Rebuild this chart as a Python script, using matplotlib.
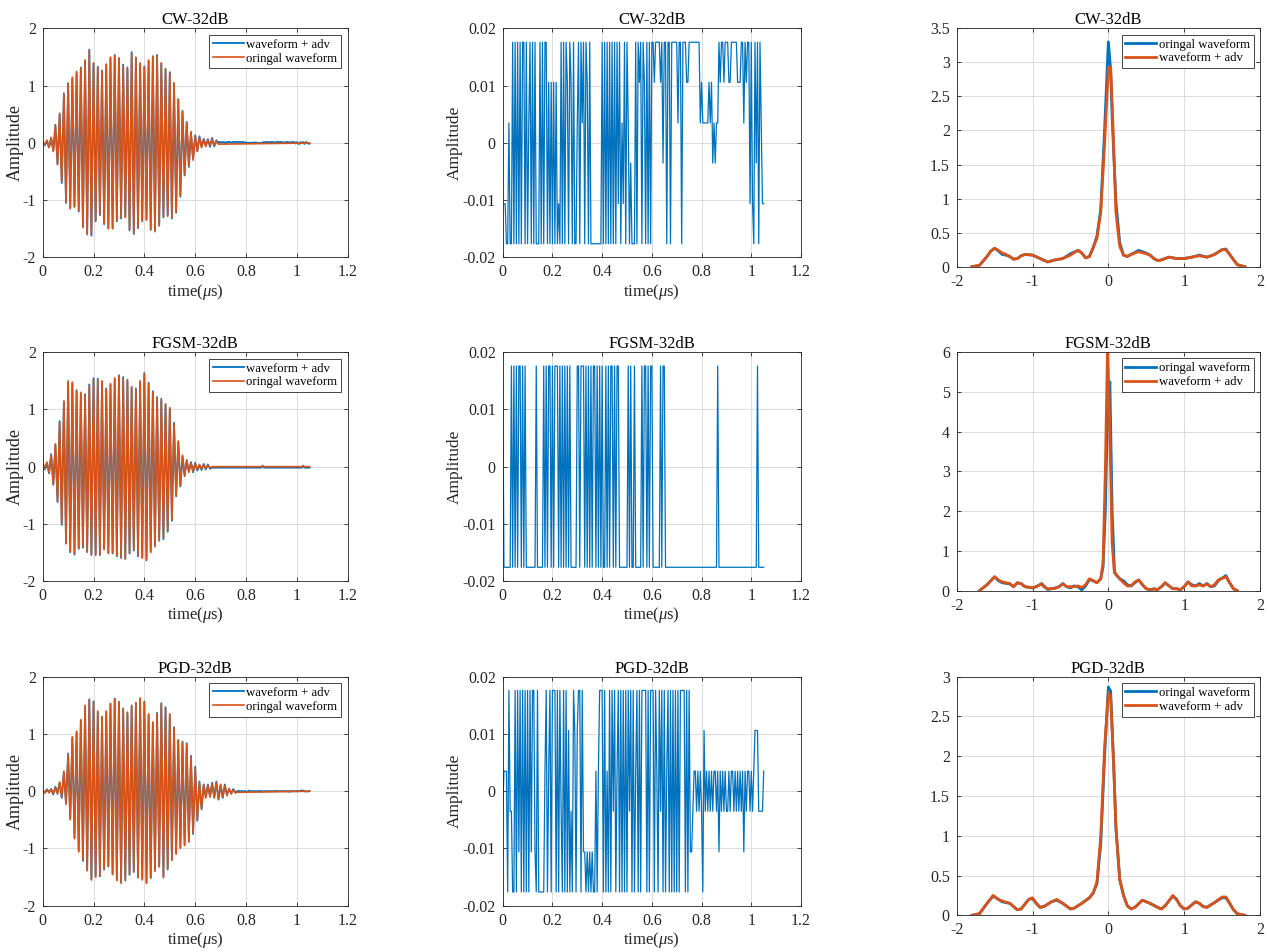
import numpy as np
import matplotlib.pyplot as plt

plt.rcParams['font.family'] = ['Liberation Serif', 'DejaVu Serif']
plt.rcParams['mathtext.fontset'] = 'custom'
plt.rcParams['mathtext.rm'] = 'Liberation Serif'
plt.rcParams['mathtext.it'] = 'Liberation Serif:italic'
plt.rcParams['axes.unicode_minus'] = False

# ----------------------------------------------------------------------
# data
# ----------------------------------------------------------------------
TITLES = ['CW-32dB', 'FGSM-32dB', 'PGD-32dB']
HALF_PERIOD = 1 / 120      # us, time between a peak and the following trough
ADV_DT = 0.005             # us, sample step of the perturbation
T_END = 1.05

# waveform peaks / troughs, one pair per carrier cycle
cw_pos = [0.03, 0.05, 0.10, 0.30, 0.52, 0.85, 1.05, 1.15, 1.25, 1.30, 1.45, 1.62,
          1.40, 1.32, 1.25, 1.38, 1.50, 1.52, 1.48, 1.35, 1.30, 1.57, 1.50, 1.40,
          1.32, 1.45, 1.52, 1.52, 1.40, 1.30, 1.22, 1.05, 0.75, 0.55, 0.35, 0.20,
          0.12, 0.10, 0.06, 0.05, 0.07, 0.03]
cw_neg = [-0.03, -0.08, -0.15, -0.38, -0.68, -1.03, -1.15, -1.10, -1.18, -1.48, -1.60, -1.60,
          -1.35, -1.25, -1.40, -1.50, -1.50, -1.35, -1.30, -1.30, -1.53, -1.57, -1.47, -1.35,
          -1.35, -1.50, -1.55, -1.45, -1.28, -1.28, -1.30, -1.20, -0.92, -0.55, -0.40, -0.30,
          -0.15, -0.08, -0.06, -0.05, -0.04, -0.02]

fgsm_pos = [0.05, 0.08, 0.20, 0.40, 0.78, 1.15, 1.50, 1.48, 1.32, 1.30, 1.25, 1.42,
            1.53, 1.52, 1.50, 1.35, 1.45, 1.55, 1.58, 1.55, 1.50, 1.40, 1.35, 1.50,
            1.62, 1.45, 1.30, 1.20, 1.17, 1.10, 1.03, 0.75, 0.45, 0.20, 0.12, 0.06,
            0.05, 0.04, 0.03, 0.02, 0.00]
fgsm_neg = [-0.03, -0.10, -0.30, -0.60, -1.00, -1.35, -1.48, -1.52, -1.42, -1.40, -1.50, -1.55,
            -1.55, -1.53, -1.45, -1.52, -1.50, -1.55, -1.58, -1.62, -1.50, -1.45, -1.55, -1.60,
            -1.62, -1.50, -1.40, -1.30, -1.25, -1.12, -0.93, -0.50, -0.33, -0.17, -0.10, -0.08,
            -0.05, -0.04, -0.03, -0.02, 0.00]

pgd_pos = [0.02, 0.03, 0.04, 0.06, 0.16, 0.35, 0.64, 0.95, 1.05, 1.25, 1.50, 1.60,
           1.55, 1.40, 1.30, 1.40, 1.52, 1.60, 1.55, 1.45, 1.38, 1.50, 1.55, 1.62,
           1.55, 1.35, 1.21, 1.35, 1.52, 1.45, 1.35, 1.10, 0.89, 0.85, 0.82, 0.60,
           0.41, 0.15, 0.12, 0.10, 0.13, 0.15, 0.12, 0.10, 0.05, 0.02]
pgd_neg = [-0.03, -0.03, -0.04, -0.05, -0.10, -0.23, -0.50, -0.83, -1.06, -1.20, -1.39, -1.55,
           -1.50, -1.47, -1.35, -1.30, -1.45, -1.56, -1.61, -1.55, -1.45, -1.40, -1.51, -1.55,
           -1.61, -1.50, -1.40, -1.32, -1.51, -1.35, -1.20, -1.10, -1.00, -0.95, -0.89, -0.73,
           -0.50, -0.30, -0.12, -0.10, -0.12, -0.13, -0.10, -0.08, -0.05, -0.02]

# perturbation level codes (one per ADV_DT sample) and the level values
ADV_LEVELS = {3: 0.0176, 2: 0.0106, 1: 0.0035, -1: -0.0035, -2: -0.0106, -3: -0.0176}

cw_adv = [-2, -2, -2, -3, -3, 1, -3, -3, 3, -3,
          3, -3, 3, -3, 3, -3, 3, 3, -3, 3,
          -3, 1, 3, -3, 3, -3, 3, -3, -3, -3,
          3, -3, 3, -3, 3, 3, -3, 2, -3, 2,
          -3, 2, -3, 2, -3, -2, -3, 3, -3, 3,
          -3, 3, 2, -3, 3, 2, -3, 3, -3, -3,
          1, 3, -3, 3, 1, 3, -3, 3, 2, -3,
          3, -3, -3, -3, -3, -3, -3, -3, -3, -3,
          3, -3, 3, -3, 3, -3, 3, -3, 3, -3,
          3, -3, 3, -2, 3, -3, 1, -2, 3, -3,
          3, 1, -3, -1, -3, -3, -3, 3, -3, 3,
          2, 3, -3, 3, 2, -3, 3, -3, 3, -3,
          3, 3, 2, 3, 3, 3, 3, 2, 3, -1,
          3, 3, -3, 3, 3, -3, 3, 3, 3, 3,
          3, 1, 3, 3, -3, 3, 3, 3, 2, 2,
          3, 3, 3, 3, 3, 3, 3, 3, 3, 1,
          2, 1, 1, 1, 1, 1, 2, 1, 2, -1,
          1, -1, 1, 1, 3, 2, 3, 3, 2, 3,
          3, 3, 2, 2, 3, 3, 3, 3, 3, 2,
          2, 2, 3, 3, 1, 3, 2, 3, 3, -2,
          3, -2, -3, 3, -1, 3, -3, 3, 1, -2, -2]

fgsm_adv = [3, -3, -3, -3, -3, -3, -3, 3, -3, 3,
            -3, 3, -3, 3, 3, -3, 3, -3, 3, -3,
            -3, -3, -3, -3, -3, -3, -3, 3, -3, -3,
            -3, -3, -3, 3, -3, 3, -3, 3, 3, -3,
            3, -3, 3, 3, 3, -3, 3, -3, 3, -3,
            3, -3, 3, -3, 3, -3, -3, -3, -3, -3,
            3, 3, -3, 3, 3, 3, -3, 3, -3, 3,
            -3, 3, -3, 3, 3, -3, 3, -3, 3, -3,
            3, -3, -3, 3, -3, 3, -3, 3, 3, -3,
            3, -3, 3, 3, -3, -3, -3, -3, -3, -3,
            -3, 3, -3, 3, -3, -3, 3, -3, -3, -3,
            -3, -3, 3, -3, 3, 3, -3, 3, -3, 3,
            3, -3, -3, -3, -3, -3, -3, 3, -3, 3,
            3, -3, -3, -3, -3, -3, -3, -3, -3, -3,
            -3, -3, -3, -3, -3, -3, -3, -3, -3, -3,
            -3, -3, -3, -3, -3, -3, -3, -3, -3, -3,
            -3, -3, -3, -3, -3, -3, -3, -3, -3, -3,
            -3, -3, -3, 3, -3, -3, -3, -3, -3, -3,
            -3, -3, -3, -3, -3, -3, -3, -3, -3, -3,
            -3, -3, -3, -3, -3, -3, -3, -3, -3, -3,
            -3, -3, -3, -3, -3, 3, -3, -3, -3, -3, -3]

pgd_adv = [-1, 1, 1, 1, -3, 3, -1, -1, -3, -3,
           3, -3, 3, -2, 3, -3, 3, -3, 3, -3,
           3, -3, 3, -2, 3, 3, -2, -3, 3, -3,
           -3, -3, -3, -3, 1, 3, -3, 1, 3, -3,
           3, 3, 3, -3, 3, -3, 3, -1, -3, 3,
           -3, 3, -3, 2, -3, -1, -3, 3, 2, -3,
           2, 3, 3, -3, 3, -2, -2, -3, -2, -3,
           -2, -3, -2, -3, -3, 1, -3, 1, 3, 3,
           3, -3, 3, -3, 1, -3, 3, -3, 3, -1,
           3, -3, 1, 3, -3, 3, -3, 3, -3, 3,
           -3, 3, -1, 3, -3, 3, -3, 1, 3, -3,
           3, -3, 3, 3, 3, 3, -3, 3, -3, 3,
           3, 3, -3, 3, 1, -3, 3, -1, 3, -3,
           3, -3, 1, 3, -3, 3, -3, 3, -3, 3,
           -3, 3, -3, 3, 3, 3, 3, -3, 3, -3,
           3, -2, -2, -1, 1, 1, -1, 1, -1, 1,
           -1, -3, 2, -1, 1, -1, 1, -1, 1, -1,
           1, 1, -1, 1, -2, 1, -1, 1, -1, 1,
           -1, -1, 1, -1, 1, 1, -1, 1, -1, 1,
           -1, 1, -1, 1, -2, 1, -1, 1, 1, -1,
           1, -1, 1, 2, 2, 2, -1, -1, -1, -1, 1]

# density curves (right column)
cw_kx = [-1.8, -1.7, -1.6, -1.55, -1.5, -1.45, -1.4, -1.35, -1.3, -1.25, -1.2, -1.15,
         -1.1, -1.0, -0.9, -0.8, -0.7, -0.6, -0.5, -0.4, -0.35, -0.3, -0.25, -0.2,
         -0.15, -0.1, -0.05, 0.0, 0.03, 0.05, 0.1, 0.15, 0.2, 0.25, 0.3, 0.4,
         0.5, 0.55, 0.6, 0.65, 0.7, 0.8, 0.9, 1.0, 1.1, 1.2, 1.3, 1.4,
         1.5, 1.55, 1.6, 1.7, 1.8]
cw_orig = [0.0, 0.02, 0.15, 0.23, 0.27, 0.23, 0.18, 0.17, 0.15, 0.11, 0.12, 0.16,
           0.18, 0.17, 0.12, 0.07, 0.10, 0.12, 0.19, 0.24, 0.20, 0.13, 0.15, 0.28,
           0.45, 0.85, 2.0, 3.3, 2.9, 2.2, 0.95, 0.35, 0.17, 0.15, 0.18, 0.24,
           0.20, 0.17, 0.12, 0.09, 0.10, 0.14, 0.12, 0.12, 0.14, 0.17, 0.14, 0.18,
           0.25, 0.26, 0.18, 0.03, 0.0]
cw_adv_k = [0.0, 0.02, 0.15, 0.23, 0.27, 0.24, 0.20, 0.18, 0.15, 0.11, 0.12, 0.16,
            0.18, 0.17, 0.12, 0.07, 0.10, 0.12, 0.17, 0.24, 0.20, 0.13, 0.15, 0.28,
            0.42, 0.80, 1.8, 2.92, 2.93, 2.4, 0.80, 0.30, 0.17, 0.15, 0.18, 0.22,
            0.19, 0.17, 0.12, 0.09, 0.10, 0.14, 0.12, 0.12, 0.14, 0.16, 0.14, 0.18,
            0.25, 0.25, 0.18, 0.03, 0.0]

fgsm_kx = [-1.7, -1.6, -1.5, -1.45, -1.4, -1.3, -1.25, -1.2, -1.15, -1.1, -1.0, -0.95,
           -0.88, -0.85, -0.8, -0.75, -0.7, -0.65, -0.6, -0.55, -0.5, -0.45, -0.4, -0.35,
           -0.3, -0.25, -0.2, -0.15, -0.1, -0.07, -0.04, -0.01, 0.02, 0.05, 0.08, 0.1,
           0.15, 0.2, 0.25, 0.3, 0.35, 0.4, 0.45, 0.5, 0.55, 0.6, 0.65, 0.7,
           0.75, 0.8, 0.85, 0.9, 0.95, 1.0, 1.05, 1.1, 1.15, 1.2, 1.25, 1.3,
           1.35, 1.4, 1.45, 1.55, 1.6, 1.65, 1.7]
fgsm_orig = [0.0, 0.15, 0.35, 0.25, 0.20, 0.17, 0.10, 0.20, 0.18, 0.10, 0.07, 0.10,
             0.18, 0.12, 0.03, 0.05, 0.07, 0.10, 0.18, 0.10, 0.07, 0.12, 0.10, 0.02,
             0.12, 0.28, 0.25, 0.20, 0.30, 0.60, 2.0, 4.6, 5.25, 2.0, 0.50, 0.40,
             0.30, 0.25, 0.15, 0.12, 0.20, 0.27, 0.15, 0.05, 0.02, 0.05, 0.03, 0.10,
             0.20, 0.12, 0.05, 0.05, 0.02, 0.10, 0.22, 0.15, 0.12, 0.18, 0.12, 0.18,
             0.10, 0.12, 0.25, 0.38, 0.20, 0.05, 0.0]
fgsm_adv_k = [0.0, 0.15, 0.35, 0.27, 0.22, 0.18, 0.10, 0.20, 0.17, 0.10, 0.08, 0.10,
              0.17, 0.10, 0.05, 0.05, 0.06, 0.10, 0.17, 0.10, 0.10, 0.10, 0.12, 0.08,
              0.15, 0.30, 0.25, 0.20, 0.30, 0.70, 3.0, 6.2, 4.0, 1.2, 0.45, 0.42,
              0.30, 0.20, 0.12, 0.12, 0.22, 0.27, 0.15, 0.05, 0.03, 0.04, 0.03, 0.10,
              0.20, 0.12, 0.05, 0.05, 0.03, 0.10, 0.22, 0.12, 0.12, 0.15, 0.12, 0.17,
              0.10, 0.15, 0.27, 0.35, 0.20, 0.05, 0.0]

pgd_kx = [-1.8, -1.7, -1.6, -1.52, -1.45, -1.4, -1.3, -1.2, -1.15, -1.05, -1.0, -0.95,
          -0.9, -0.85, -0.75, -0.68, -0.6, -0.5, -0.45, -0.35, -0.25, -0.2, -0.15, -0.1,
          -0.05, 0.0, 0.03, 0.07, 0.1, 0.15, 0.2, 0.25, 0.3, 0.35, 0.45, 0.55,
          0.65, 0.7, 0.75, 0.85, 0.9, 0.95, 1.0, 1.05, 1.15, 1.2, 1.25, 1.3,
          1.4, 1.5, 1.55, 1.6, 1.65, 1.7, 1.8]
pgd_orig = [0.0, 0.02, 0.15, 0.24, 0.20, 0.17, 0.15, 0.07, 0.08, 0.20, 0.21, 0.15,
            0.10, 0.11, 0.17, 0.19, 0.15, 0.08, 0.09, 0.15, 0.22, 0.28, 0.40, 0.90,
            2.0, 2.87, 2.82, 1.9, 1.1, 0.45, 0.25, 0.12, 0.08, 0.10, 0.19, 0.15,
            0.10, 0.08, 0.12, 0.24, 0.20, 0.12, 0.08, 0.09, 0.17, 0.15, 0.11, 0.10,
            0.16, 0.22, 0.22, 0.15, 0.07, 0.02, 0.0]
pgd_adv_k = [0.0, 0.02, 0.15, 0.25, 0.20, 0.18, 0.15, 0.07, 0.08, 0.20, 0.22, 0.15,
             0.10, 0.11, 0.17, 0.20, 0.15, 0.08, 0.09, 0.15, 0.22, 0.28, 0.42, 1.0,
             2.1, 2.8, 2.75, 1.9, 1.1, 0.45, 0.25, 0.12, 0.08, 0.10, 0.19, 0.15,
             0.10, 0.08, 0.12, 0.25, 0.20, 0.12, 0.08, 0.09, 0.17, 0.15, 0.11, 0.10,
             0.16, 0.23, 0.23, 0.15, 0.07, 0.02, 0.0]

WAVES = [(cw_pos, cw_neg), (fgsm_pos, fgsm_neg), (pgd_pos, pgd_neg)]
ADVS = [cw_adv, fgsm_adv, pgd_adv]
DENS = [(cw_kx, cw_orig, cw_adv_k), (fgsm_kx, fgsm_orig, fgsm_adv_k),
        (pgd_kx, pgd_orig, pgd_adv_k)]
DENS_YLIM = [(0, 3.5, 0.5), (0, 6, 1), (0, 3, 0.5)]

BLUE = '#0072BD'
ORANGE = '#D95319'
INK = '#262626'

# ----------------------------------------------------------------------
# layout (pixel boxes of the axes in the 1269x952 figure)
# ----------------------------------------------------------------------
W, H = 1269, 952
COLS = [(42.7, 347.7), (502.7, 801.0), (956.7, 1260.0)]
ROWS = [(28.5, 257.5), (352.3, 581.0), (676.7, 905.7)]
ROWS_R = [(28.3, 266.7), (352.0, 590.7), (676.7, 915.3)]


def box(col, row):
    x0, x1 = col
    y0, y1 = row
    return [x0 / W, 1 - y1 / H, (x1 - x0) / W, (y1 - y0) / H]


def style(ax):
    ax.tick_params(direction='in', top=True, right=True, length=3, width=0.6,
                   labelsize=11.5, colors=INK, pad=5)
    for s in ax.spines.values():
        s.set_color(INK)
        s.set_linewidth(0.6)
    ax.grid(True, color='#dedede', linewidth=0.8)
    ax.set_axisbelow(True)


def fmt(v):
    return f'{v:g}'


def legend(ax, handles, labels):
    leg = ax.legend(handles, labels, loc='upper right', fontsize=9.2,
                    fancybox=False, edgecolor=INK, framealpha=1,
                    handlelength=2.4, handletextpad=0.2, borderpad=0.3,
                    labelspacing=0.15, borderaxespad=0.5)
    leg.get_frame().set_linewidth(0.6)


fig = plt.figure(figsize=(W / 100, H / 100), dpi=100)

for r in range(3):
    pos, neg = WAVES[r]
    adv = np.array([ADV_LEVELS[c] for c in ADVS[r]])
    t_adv = np.arange(len(adv)) * ADV_DT

    t_ext, y_ext = [], []
    for k in range(len(pos)):
        t_ext += [2 * k * HALF_PERIOD, (2 * k + 1) * HALF_PERIOD]
        y_ext += [pos[k], neg[k]]
    t_ext = np.array(t_ext)
    y_ext = np.array(y_ext)

    # original waveform
    t_o = np.append(t_ext, T_END)
    y_o = np.append(y_ext, 0.0)
    # waveform + perturbation
    idx = np.clip(np.round(t_ext / ADV_DT).astype(int), 0, len(adv) - 1)
    tail = t_adv > t_ext[-1]
    t_b = np.concatenate([t_ext, t_adv[tail]])
    y_b = np.concatenate([y_ext + adv[idx], adv[tail]])

    # left: waveforms
    ax = fig.add_axes(box(COLS[0], ROWS[r]))
    style(ax)
    hb, = ax.plot(t_b, y_b, color=BLUE, lw=1.3)
    ho, = ax.plot(t_o, y_o, color=ORANGE, lw=1.2)
    ax.set_xlim(0, 1.2)
    ax.set_ylim(-2, 2)
    ax.set_xticks(np.arange(0, 1.21, 0.2))
    ax.set_xticklabels([fmt(round(v, 1)) for v in np.arange(0, 1.21, 0.2)])
    ax.set_yticks([-2, -1, 0, 1, 2])
    ax.set_yticklabels(['-2', '-1', '0', '1', '2'])
    ax.set_title(TITLES[r], fontsize=12, pad=3, color='black')
    ax.set_xlabel(r'time($\mu$s)', fontsize=12, labelpad=1, color=INK)
    ax.set_ylabel('Amplitude', fontsize=13, labelpad=-1, color=INK)
    legend(ax, [hb, ho], ['waveform + adv', 'oringal waveform'])

    # middle: perturbation
    ax = fig.add_axes(box(COLS[1], ROWS[r]))
    style(ax)
    ax.plot(t_adv, adv, color=BLUE, lw=0.9)
    ax.set_xlim(0, 1.2)
    ax.set_ylim(-0.02, 0.02)
    ax.set_xticks(np.arange(0, 1.21, 0.2))
    ax.set_xticklabels([fmt(round(v, 1)) for v in np.arange(0, 1.21, 0.2)])
    ax.set_yticks([-0.02, -0.01, 0, 0.01, 0.02])
    ax.set_yticklabels(['-0.02', '-0.01', '0', '0.01', '0.02'])
    ax.set_title(TITLES[r], fontsize=12, pad=3, color='black')
    ax.set_xlabel(r'time($\mu$s)', fontsize=12, labelpad=1, color=INK)
    ax.set_ylabel('Amplitude', fontsize=12.5, labelpad=0, color=INK)

    # right: distributions
    kx, ko, ka = DENS[r]
    ax = fig.add_axes(box(COLS[2], ROWS_R[r]))
    style(ax)
    h1, = ax.plot(kx, ko, color=BLUE, lw=2)
    h2, = ax.plot(kx, ka, color=ORANGE, lw=2)
    ax.set_xlim(-2, 2)
    y0, y1, ystep = DENS_YLIM[r]
    ax.set_ylim(y0, y1)
    ax.set_xticks([-2, -1, 0, 1, 2])
    ax.set_xticklabels(['-2', '-1', '0', '1', '2'])
    yt = np.arange(y0, y1 + 1e-9, ystep)
    ax.set_yticks(yt)
    ax.set_yticklabels([fmt(round(v, 1)) for v in yt])
    ax.set_title(TITLES[r], fontsize=12, pad=3, color='black')
    legend(ax, [h1, h2], ['oringal waveform', 'waveform + adv'])

fig.savefig('out.png', dpi=100)
